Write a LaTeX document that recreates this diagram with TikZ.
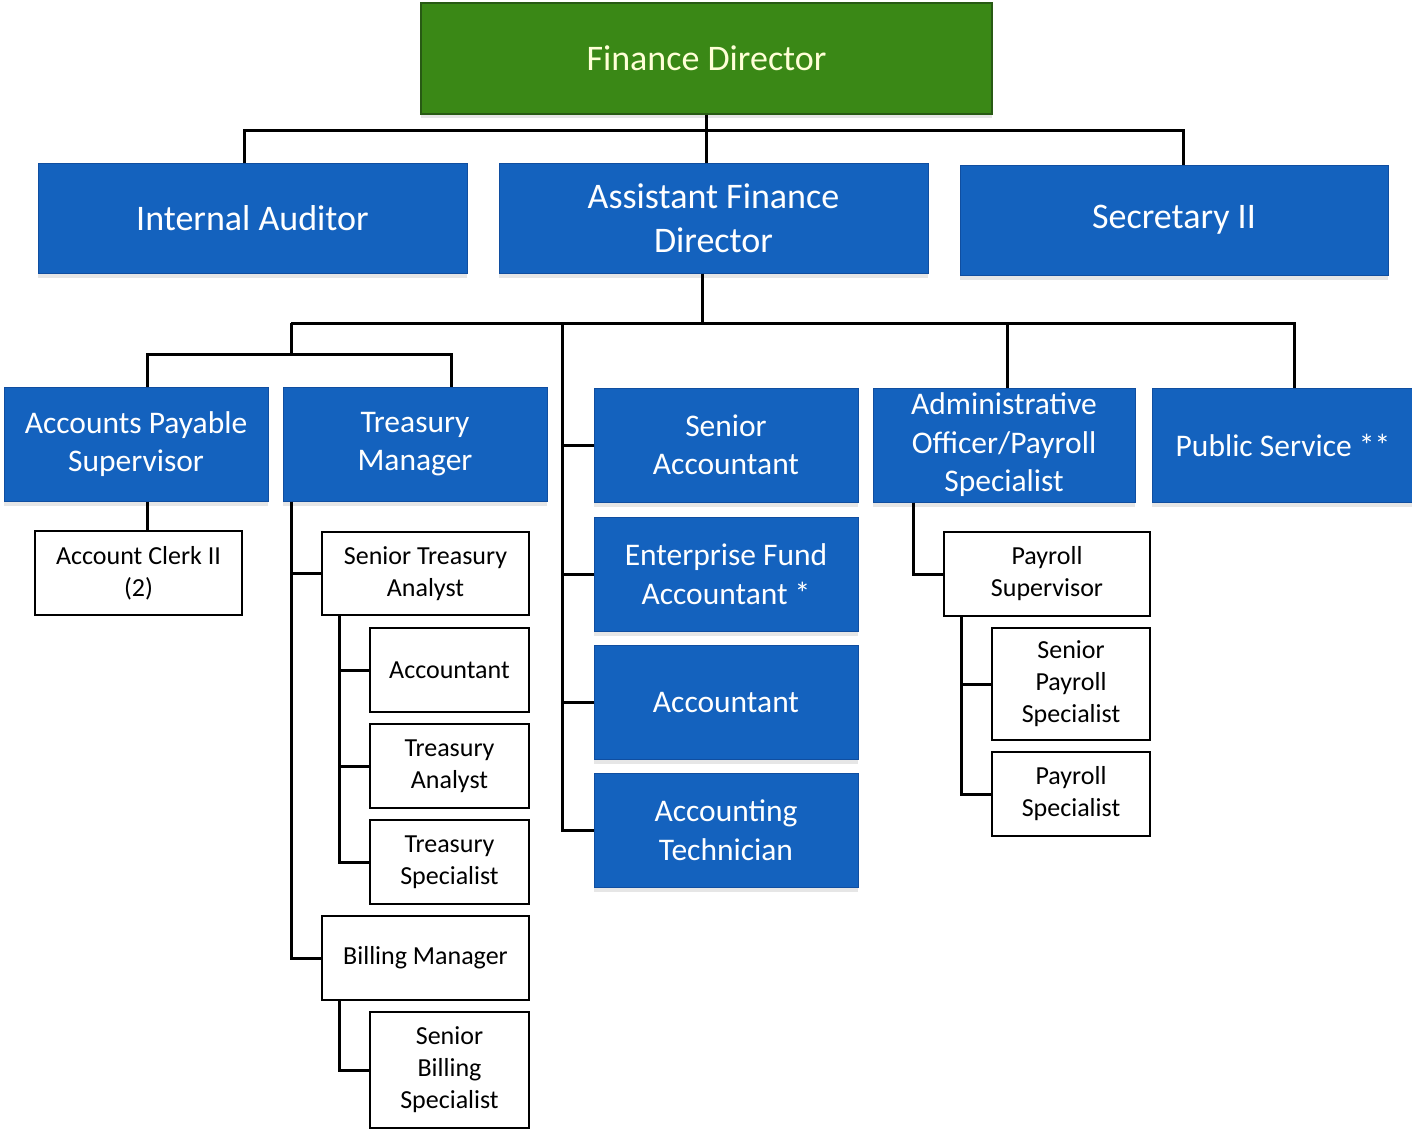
\documentclass[tikz,border=0pt]{standalone}
\usepackage{fontspec}
\setmainfont{Carlito}
\usetikzlibrary{shadows}
\definecolor{bluebox}{RGB}{20,98,190}
\definecolor{blueedge}{RGB}{16,78,160}
\definecolor{greenbox}{RGB}{58,136,22}
\definecolor{greenedge}{RGB}{40,90,20}
\definecolor{fdtext}{RGB}{255,255,215}
\begin{document}
\begin{tikzpicture}[x=1pt,y=-1pt,
  conn/.style={line width=3pt,black},
  topbox/.style={draw=greenedge,line width=1.5pt,fill=greenbox,text=fdtext,align=center,
     font=\fontsize{36}{44}\selectfont,inner sep=0pt,
     drop shadow={opacity=0.2,shadow xshift=0pt,shadow yshift=-4pt}},
  bigblue/.style={draw=blueedge,line width=1pt,fill=bluebox,text=white,align=center,
     font=\fontsize{36}{44}\selectfont,inner sep=0pt,
     drop shadow={opacity=0.2,shadow xshift=0pt,shadow yshift=-5pt}},
  midblue/.style={draw=blueedge,line width=1pt,fill=bluebox,text=white,align=center,
     font=\fontsize{31.5}{38.5}\selectfont,inner sep=0pt,
     drop shadow={opacity=0.2,shadow xshift=0pt,shadow yshift=-5pt}},
  wbox/.style={draw=black,line width=2.8pt,fill=white,align=center,
     font=\fontsize{26}{32}\selectfont,inner sep=0pt}
]
\useasboundingbox (0,0) rectangle (1412,1130);

% Top
\node[topbox,minimum width=571pt,minimum height=111pt] (fd) at (706.5,58.5) {Finance Director};
\node[bigblue,minimum width=429pt,minimum height=110pt] (ia) at (252.5,218) {Internal Auditor};
\node[bigblue,minimum width=429pt,minimum height=110pt] (afd) at (713.5,218) {Assistant Finance\\Director};
\node[bigblue,minimum width=428pt,minimum height=110pt] (sec) at (1174,220) {Secretary II};

% Second tier
\node[midblue,minimum width=264pt,minimum height=114pt] (aps) at (136,444) {Accounts Payable\\Supervisor};
\node[midblue,minimum width=264pt,minimum height=114pt] (tm) at (415,444) {Treasury\\Manager};
\node[midblue,minimum width=264pt,minimum height=114pt] (sa) at (726,445) {Senior\\Accountant};
\node[midblue,minimum width=262pt,minimum height=114pt] (adm) at (1004,445) {Administrative\\Officer/Payroll\\Specialist};
\node[midblue,minimum width=262pt,minimum height=114pt] (ps) at (1283,445) {Public Service **};

% Centre column
\node[midblue,minimum width=264pt,minimum height=114pt] (efa) at (726,574) {Enterprise Fund\\Accountant *};
\node[midblue,minimum width=264pt,minimum height=114pt] (acc) at (726,702) {Accountant};
\node[midblue,minimum width=264pt,minimum height=114pt] (tech) at (726,830) {Accounting\\Technician};

% White boxes
\node[wbox,minimum width=207pt,minimum height=84pt] (clerk) at (138.5,573) {Account Clerk II\\(2)};
\node[wbox,minimum width=207pt,minimum height=83pt] (sta) at (425.5,573.5) {Senior Treasury\\Analyst};
\node[wbox,minimum width=159pt,minimum height=84pt] (acct) at (449.5,670) {Accountant};
\node[wbox,minimum width=159pt,minimum height=84pt] (ta) at (449.5,766) {Treasury\\Analyst};
\node[wbox,minimum width=159pt,minimum height=84pt] (tsp) at (449.5,862) {Treasury\\Specialist};
\node[wbox,minimum width=207pt,minimum height=84pt] (bm) at (425.5,958) {Billing Manager};
\node[wbox,minimum width=159pt,minimum height=116pt] (sbs) at (449.5,1070) {Senior\\Billing\\Specialist};
\node[wbox,minimum width=206pt,minimum height=84pt] (psup) at (1047,574) {Payroll\\Supervisor};
\node[wbox,minimum width=158pt,minimum height=112pt] (sps) at (1071,684) {Senior\\Payroll\\Specialist};
\node[wbox,minimum width=158pt,minimum height=84pt] (pspec) at (1071,794) {Payroll\\Specialist};

% Junction coordinates
\coordinate (tl) at (244,130);
\coordinate (tr) at (1183,130);
\coordinate (m) at (702,323);
\coordinate (ml) at (291,323);
\coordinate (mr) at (1294,323);
\coordinate (mc) at (562,323);
\coordinate (madm) at (1007,323);
\coordinate (sl) at (147,354);
\coordinate (sr) at (451,354);
\coordinate (tv) at (291,0);
\coordinate (sv) at (339,0);
\coordinate (av) at (913,0);
\coordinate (pv) at (961,0);

% Connectors
\draw[conn] (tl |- ia.north) -- (tl) -- (tr) -- (tr |- sec.north);
\draw[conn] (fd.south) -- (fd.south |- afd.north);
\draw[conn] (m |- afd.south) -- (m);
\draw[conn] (ml) -- (mr) -- (mr |- ps.north);
\draw[conn] (madm) -- (madm |- adm.north);
\draw[conn] (ml) -- (ml |- sl);
\draw[conn] (sl |- aps.north) -- (sl) -- (sr) -- (sr |- tm.north);
\draw[conn] (sl |- aps.south) -- (sl |- clerk.north);
\draw[conn] (mc) -- (mc |- tech.west) -- (tech.west);
\draw[conn] (mc |- sa.west) -- (sa.west);
\draw[conn] (mc |- efa.west) -- (efa.west);
\draw[conn] (mc |- acc.west) -- (acc.west);
\draw[conn] (tv |- tm.south) -- (tv |- bm.west) -- (bm.west);
\draw[conn] (tv |- sta.west) -- (sta.west);
\draw[conn] (sv |- sta.south) -- (sv |- tsp.west) -- (tsp.west);
\draw[conn] (sv |- acct.west) -- (acct.west);
\draw[conn] (sv |- ta.west) -- (ta.west);
\draw[conn] (sv |- bm.south) -- (sv |- sbs.west) -- (sbs.west);
\draw[conn] (av |- adm.south) -- (av |- psup.west) -- (psup.west);
\draw[conn] (pv |- psup.south) -- (pv |- pspec.west) -- (pspec.west);
\draw[conn] (pv |- sps.west) -- (sps.west);
\end{tikzpicture}
\end{document}
